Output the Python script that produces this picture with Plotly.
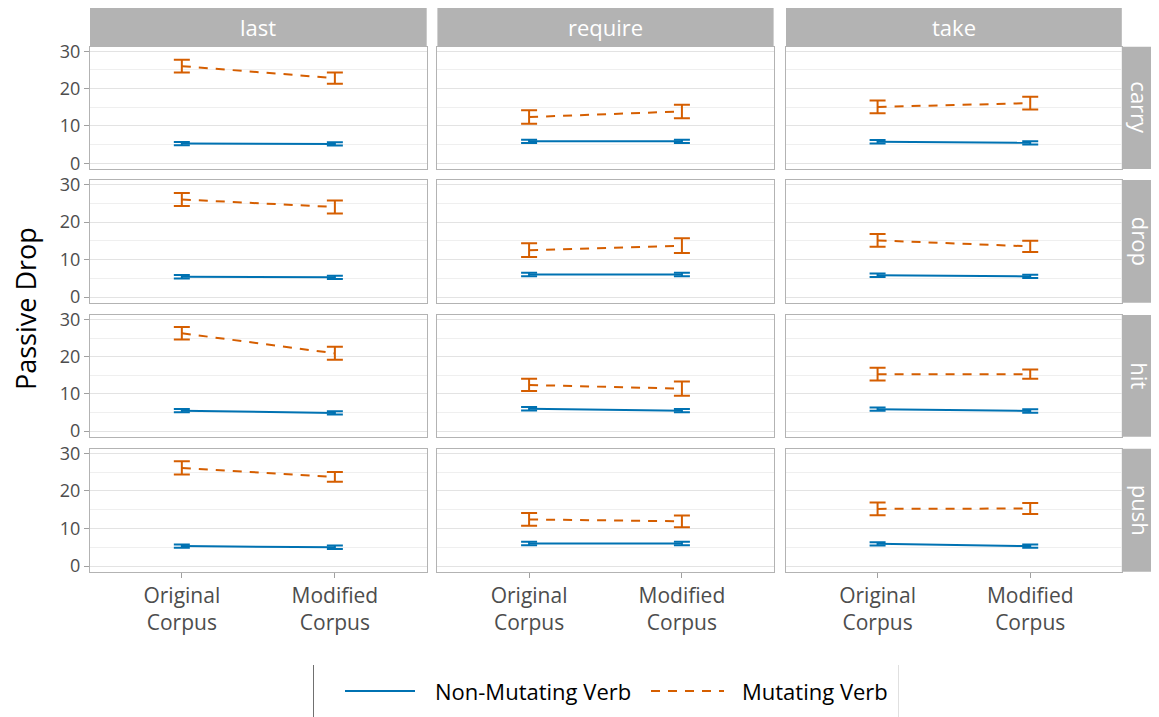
import plotly.graph_objects as go
from plotly.subplots import make_subplots

# the page body has an 8px margin, so the figure is 8px smaller on each axis
OFF = 8
W, H = 1159 - OFF, 717 - OFF

col_verbs = ["last", "require", "take"]
row_verbs = ["carry", "drop", "hit", "push"]
corpus_labels = ["Original<br>Corpus", "Modified<br>Corpus"]
corpus_pos = [1, 2]
series_names = ["Non-Mutating Verb", "Mutating Verb"]

# [row][col] -> [Original, Modified]
mut_mean = [
    [[26.0, 22.8], [12.4, 13.9], [15.1, 16.1]],
    [[26.0, 24.0], [12.5, 13.7], [15.1, 13.5]],
    [[26.3, 20.9], [12.4, 11.4], [15.3, 15.3]],
    [[26.1, 23.7], [12.4, 11.9], [15.2, 15.3]],
]
mut_err = [
    [[1.7, 1.5], [1.8, 1.8], [1.7, 1.7]],
    [[1.75, 1.75], [1.85, 1.95], [1.7, 1.5]],
    [[1.65, 1.75], [1.65, 1.9], [1.7, 1.25]],
    [[1.75, 1.3], [1.7, 1.55], [1.7, 1.45]],
]
non_mean = [
    [[5.3, 5.2], [5.9, 5.9], [5.8, 5.5]],
    [[5.4, 5.25], [6.0, 6.0], [5.8, 5.5]],
    [[5.5, 4.9], [6.0, 5.5], [5.9, 5.4]],
    [[5.3, 5.0], [6.0, 6.0], [5.9, 5.3]],
]
non_err = [
    [[0.45, 0.45], [0.45, 0.45], [0.45, 0.45]],
    [[0.45, 0.45], [0.45, 0.45], [0.45, 0.45]],
    [[0.45, 0.45], [0.45, 0.45], [0.45, 0.45]],
    [[0.45, 0.45], [0.45, 0.45], [0.45, 0.45]],
]

BLUE = "#0072B2"
ORANGE = "#D55E00"
STRIP = "#B3B3B3"
FONT = "Open Sans, sans-serif"
DASH = "9px,8px"

# panel geometry in screen pixels
col_px = [(90, 426.7), (437.4, 773.6), (786.0, 1121.8)]
row_px = [(46.7, 169.0), (180.0, 302.7), (315.0, 436.7), (448.7, 571.7)]


def px_x(v):
    return (v - OFF) / W


def px_y(v):
    return 1 - (v - OFF) / H


fig = make_subplots(rows=4, cols=3, shared_xaxes=True, shared_yaxes=True)

for r in range(4):
    for c in range(3):
        fig.add_trace(go.Scatter(
            x=corpus_pos, y=non_mean[r][c], mode="lines",
            name=series_names[0], showlegend=False,
            line=dict(color=BLUE, width=2),
            error_y=dict(type="data", array=non_err[r][c], color=BLUE,
                         thickness=2, width=8),
            hoverinfo="skip"), row=r + 1, col=c + 1)
        fig.add_trace(go.Scatter(
            x=corpus_pos, y=mut_mean[r][c], mode="lines",
            name=series_names[1], showlegend=False,
            line=dict(color=ORANGE, width=2, dash=DASH),
            error_y=dict(type="data", array=mut_err[r][c], color=ORANGE,
                         thickness=2, width=8),
            hoverinfo="skip"), row=r + 1, col=c + 1)

layout_updates = {}
for r in range(4):
    for c in range(3):
        idx = r * 3 + c + 1
        sfx = "" if idx == 1 else str(idx)
        x0, x1 = col_px[c]
        y0, y1 = row_px[r]
        layout_updates["xaxis" + sfx] = dict(
            domain=[px_x(x0), px_x(x1)], range=[0.4, 2.6], automargin=False,
            tickvals=corpus_pos, ticktext=corpus_labels,
            showticklabels=(r == 3), ticks="outside" if r == 3 else "",
            ticklen=5, tickcolor="#A0A0A0", showgrid=False, zeroline=False,
            showline=True, mirror=True, linecolor="#B3B3B3", linewidth=1.3,
            tickfont=dict(family=FONT, size=21, color="#4D4D4D"))
        layout_updates["yaxis" + sfx] = dict(
            domain=[px_y(y1), px_y(y0)], range=[-1.5, 31.2], automargin=False,
            tickvals=[0, 10, 20, 30], showticklabels=(c == 0),
            ticks="outside" if c == 0 else "", ticklen=5, tickcolor="#A0A0A0",
            showgrid=True, gridcolor="#E3E3E3", gridwidth=1, zeroline=False,
            minor=dict(tickvals=[5, 15, 25], showgrid=True,
                       gridcolor="#EFEFEF", gridwidth=1),
            showline=True, mirror=True, linecolor="#B3B3B3", linewidth=1.3,
            tickfont=dict(family=FONT, size=18, color="#4D4D4D"))
fig.update_layout(**layout_updates)

shapes = []
annotations = []
# top strips
for c, name in enumerate(col_verbs):
    x0, x1 = col_px[c]
    shapes.append(dict(type="rect", xref="paper", yref="paper",
                       x0=px_x(x0), x1=px_x(x1), y0=px_y(46.7), y1=px_y(7),
                       fillcolor=STRIP, line=dict(width=0), layer="below"))
    annotations.append(dict(text=name, xref="paper", yref="paper",
                            x=px_x((x0 + x1) / 2), y=px_y(27),
                            showarrow=False, xanchor="center", yanchor="middle",
                            font=dict(family=FONT, size=22, color="white")))
# right strips
for r, name in enumerate(row_verbs):
    y0, y1 = row_px[r]
    shapes.append(dict(type="rect", xref="paper", yref="paper",
                       x0=px_x(1121.8), x1=px_x(1159), y0=px_y(y1), y1=px_y(y0),
                       fillcolor=STRIP, line=dict(width=0), layer="below"))
    annotations.append(dict(text=name, xref="paper", yref="paper",
                            x=px_x(1140.5), y=px_y((y0 + y1) / 2),
                            showarrow=False, textangle=90,
                            xanchor="center", yanchor="middle",
                            font=dict(family=FONT, size=22, color="white")))
# y-axis title
annotations.append(dict(text="Passive Drop", xref="paper", yref="paper",
                        x=px_x(25), y=px_y(309), showarrow=False, textangle=-90,
                        xanchor="center", yanchor="middle",
                        font=dict(family=FONT, size=27, color="black")))

# legend (drawn as a key: sample lines + labels)
LEG_Y = px_y(691)
leg_items = [
    (series_names[0], BLUE, "solid", 345, 415, 433),
    (series_names[1], ORANGE, DASH, 651, 724, 740),
]
for name, color, dash, lx0, lx1, tx in leg_items:
    shapes.append(dict(type="line", xref="paper", yref="paper",
                       x0=px_x(lx0), x1=px_x(lx1), y0=LEG_Y, y1=LEG_Y,
                       line=dict(color=color, width=2.2, dash=dash)))
    annotations.append(dict(text=name, xref="paper", yref="paper",
                            x=px_x(tx), y=LEG_Y, showarrow=False,
                            xanchor="left", yanchor="middle",
                            font=dict(family=FONT, size=22, color="black")))
# legend frame sides
shapes.append(dict(type="line", xref="paper", yref="paper",
                   x0=px_x(313.5), x1=px_x(313.5), y0=0, y1=px_y(665),
                   line=dict(color="#707070", width=1)))
shapes.append(dict(type="line", xref="paper", yref="paper",
                   x0=px_x(898.5), x1=px_x(898.5), y0=0, y1=px_y(665),
                   line=dict(color="#E0E0E0", width=1)))

fig.update_layout(
    width=W, height=H, autosize=False,
    margin=dict(l=0, r=0, t=0, b=0, autoexpand=False),
    paper_bgcolor="white", plot_bgcolor="white",
    font=dict(family=FONT),
    shapes=shapes, annotations=annotations,
    showlegend=False,
)

fig.write_html("out.html")
